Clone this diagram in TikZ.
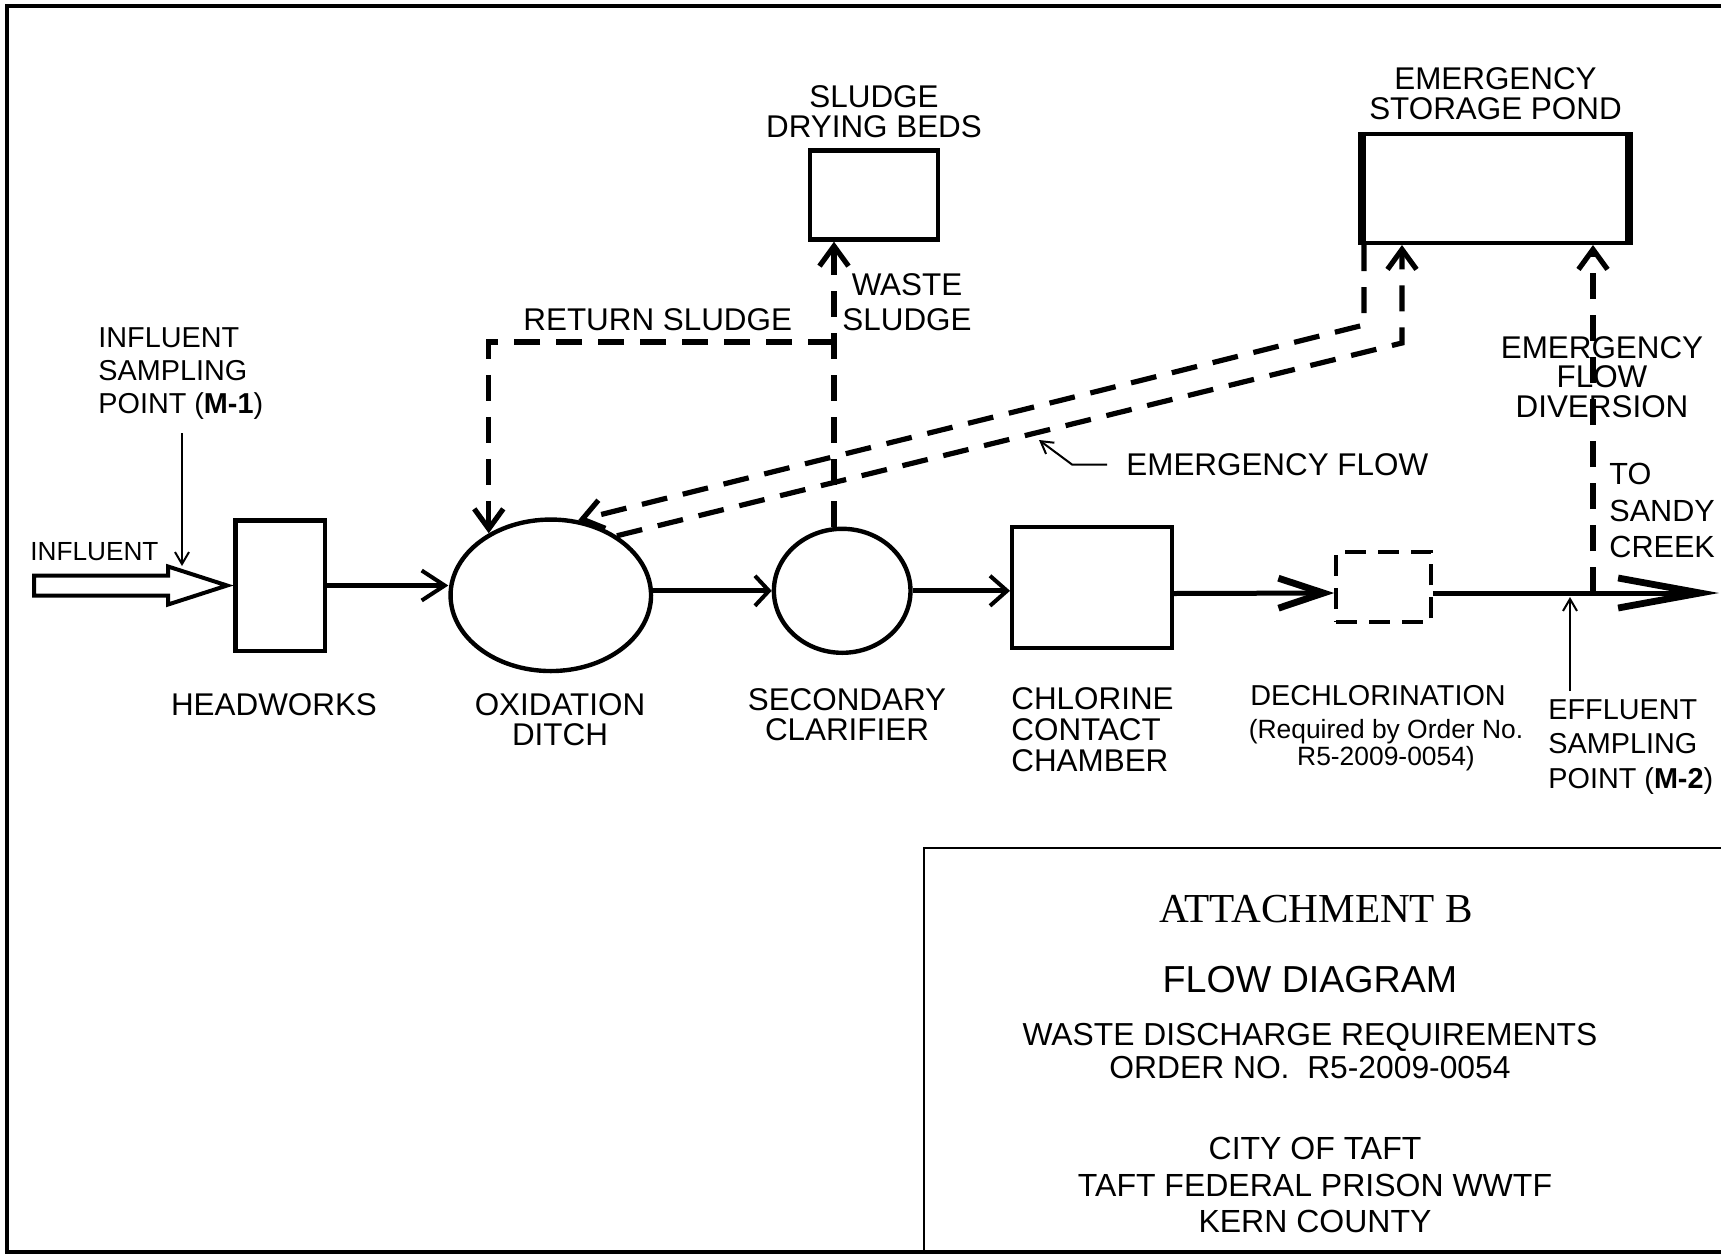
\documentclass[tikz,border=0pt]{standalone}
\usepackage{fontspec}
\setmainfont{Liberation Sans}
\newfontfamily\ttlfont{Liberation Serif}
\usetikzlibrary{arrows.meta,shapes.geometric,positioning}

\begin{document}
\begin{tikzpicture}[x=0.5pt,y=-0.5pt,
      box/.style={draw,line width=2.2pt,inner sep=0pt},
      tank/.style={draw,ellipse,line width=2.2pt,inner sep=0pt},
      lbl/.style={inner sep=0pt,align=center,font=\fontsize{15.7}{#1}\selectfont},
      lbl/.default=15pt,
      sml/.style={inner sep=0pt,align=left,font=\fontsize{14.4}{#1}\selectfont},
      sml/.default=16.5pt,
      flow/.style={line width=2.5pt},
      arr/.style={flow,-{Straight Barb[length=#1,width=15pt,line width=2pt]}},
      arr/.default=8pt,
      bigarr/.style={flow,-{Straight Barb[length=#1,width=15pt,line width=3.4pt]}},
      dline/.style={line width=2.6pt,dash pattern=on 13pt off 8pt},
      dsh/.style={dline,-{Straight Barb[length=10pt,width=14.5pt]}},
      lead/.style={line width=1pt,-{Straight Barb[length=6pt,width=7pt]}}
    ]
      \useasboundingbox (0,0) rectangle (1721,1254);
      % sheet frame and title block
      \draw[line width=2pt] (1730,5.5) -- (7,5.5) -- (7,1252) -- (1730,1252);
      \draw[line width=1.2pt] (1730,848) -- (924,848) -- (924,1252);

      % process units
      \node[box,minimum width=44.7pt,minimum height=65.2pt]   (hw)   at (280,585.5) {};
      \node[tank,minimum width=100.25pt,minimum height=75.75pt] (ox) at (550.8,595.3) {};
      \node[tank,minimum width=68.3pt,minimum height=62pt]    (cl)   at (842.2,590.8) {};
      \node[box,minimum width=79.75pt,minimum height=60.25pt] (cc)   at (1092,587.5) {};
      \node[box,line width=1.8pt,dash pattern=on 10.5pt off 6pt,
            minimum width=47.5pt,minimum height=35.25pt]      (dc)   at (1383.5,587) {};
      \node[box,minimum width=63.75pt,minimum height=44.5pt]  (sdb)  at (874,195) {};
      \node[box,line width=2pt,minimum width=135.5pt,minimum height=54.5pt] (pond) at (1495.5,188.5) {};
      \draw[line width=4pt] ([xshift=2pt]pond.north west) -- ([xshift=2pt]pond.south west)
                            ([xshift=-2pt]pond.north east) -- ([xshift=-2pt]pond.south east);

      % labels
      \node[lbl,anchor=north]        (sdbl)  at (874,85)    {SLUDGE\\DRYING BEDS};
      \node[lbl=15.3pt,anchor=north] (pondl) at (1495.5,67) {EMERGENCY\\STORAGE POND};
      \node[lbl,anchor=north west]   (rsl)   at (523,308)   {RETURN SLUDGE};
      \node[lbl=17.5pt,anchor=north] (wsl)   at (907,273)   {WASTE\\SLUDGE};
      \node[sml,anchor=north west]   (m1l)   at (98,327)    {INFLUENT\\SAMPLING\\POINT (\textbf{M-1})};
      \node[inner sep=0pt,anchor=north west,font=\fontsize{13.1}{15}\selectfont] (infl) at (30,542) {INFLUENT};
      \node[lbl,anchor=north]        (hwl)   at (274,693)   {HEADWORKS};
      \node[lbl,anchor=north]        (oxl)   at (560,693)   {OXIDATION\\DITCH};
      \node[lbl,anchor=north]        (cll)   at (847,688)   {SECONDARY\\CLARIFIER};
      \node[lbl=15.5pt,align=left,anchor=north west] (ccl) at (1011,687) {CHLORINE\\CONTACT\\CHAMBER};
      \node[inner sep=0pt,anchor=north,font=\fontsize{14.4}{15}\selectfont] (dcl) at (1378,685) {DECHLORINATION};
      \node[inner sep=0pt,anchor=north,align=center,font=\fontsize{13.2}{13.5}\selectfont] (reql) at (1386,719)
           {(Required by Order No.\\R5-2009-0054)};
      \node[lbl,anchor=north west]   (efl)   at (1126,453)  {EMERGENCY FLOW};
      \node[lbl=14.75pt,anchor=north] (divl) at (1602,336)  {EMERGENCY\\FLOW\\DIVERSION};
      \node[lbl,align=left,anchor=north west,font=\fontsize{15.3}{18.25}\selectfont] (crl) at (1609,463)
           {TO\\SANDY\\CREEK};
      \node[sml=17.25pt,anchor=north west] (m2l) at (1548,699) {EFFLUENT\\SAMPLING\\POINT (\textbf{M-2})};

      % title block text
      \node[inner sep=0pt,anchor=north,font=\ttlfont\fontsize{20.6}{22}\selectfont] (ttl) at (1316,895) {ATTACHMENT B};
      \node[inner sep=0pt,anchor=north,font=\fontsize{18.8}{20}\selectfont] (fdl) at (1310,966) {FLOW DIAGRAM};
      \node[inner sep=0pt,anchor=north,align=center,font=\fontsize{15.9}{16.5}\selectfont] (wdr) at (1310,1023)
           {WASTE DISCHARGE REQUIREMENTS\\ORDER NO.\ \ R5-2009-0054};
      \node[inner sep=0pt,anchor=north,align=center,font=\fontsize{16}{18.25}\selectfont] (city) at (1315,1137)
           {CITY OF TAFT\\TAFT FEDERAL PRISON WWTF\\KERN COUNTY};

      % influent
      \draw[line width=2pt,line join=miter] ([xshift=-3pt]hw.west) -- ++(-59,-19) -- ++(0,9) -- ++(-134,0)
           -- ++(0,20) -- ++(134,0) -- ++(0,9) -- cycle;
      \coordinate (m1top) at (182,433);
      \coordinate (m1tip) at (182,566);
      \draw[lead] (m1top) -- (m1tip);

      % main flow train
      \draw[arr=11.5pt] (hw.east) -- (hw.east -| ox.west);
      \draw[arr=7pt] (ox.east |- cl.west) -- (cl.west);
      \draw[arr=8.5pt] (cl.east) -- (cl.east -| cc.west);
      \draw[bigarr=22.5pt] ([yshift=-3pt]cc.east) -- ([yshift=-3pt]dc.west);
      \coordinate (creek) at (1719,593);
      \draw[bigarr=41pt] ([yshift=-3pt]dc.east) -- (creek);

      % sludge lines
      \coordinate (ws) at (834,342);
      \draw[dsh] (ws |- cl.north) -- (ws |- sdb.south);
      \draw[dsh] (ws) -| (ox.135);

      % emergency flow
      \draw[dsh] ([xshift=3pt]pond.south west) -- ++(0,80) -- (ox.70);
      \coordinate (eb) at (1402,343);
      \draw[dsh] (ox.42) -- (eb) -- (eb |- pond.south);
      \coordinate (div) at (1593,593);
      \draw[dsh] (div) -- (div |- pond.south);

      % leaders
      \coordinate (efs) at ([xshift=-9.5pt]efl.west);
      \coordinate (efa) at (1039,440);
      \draw[lead] (efs) -- ++(-35,0) -- (efa);
      \coordinate (m2bot) at (1570,691);
      \coordinate (m2tip) at (1570,597);
      \draw[lead] (m2bot) -- (m2tip);
    \end{tikzpicture}
\end{document}
